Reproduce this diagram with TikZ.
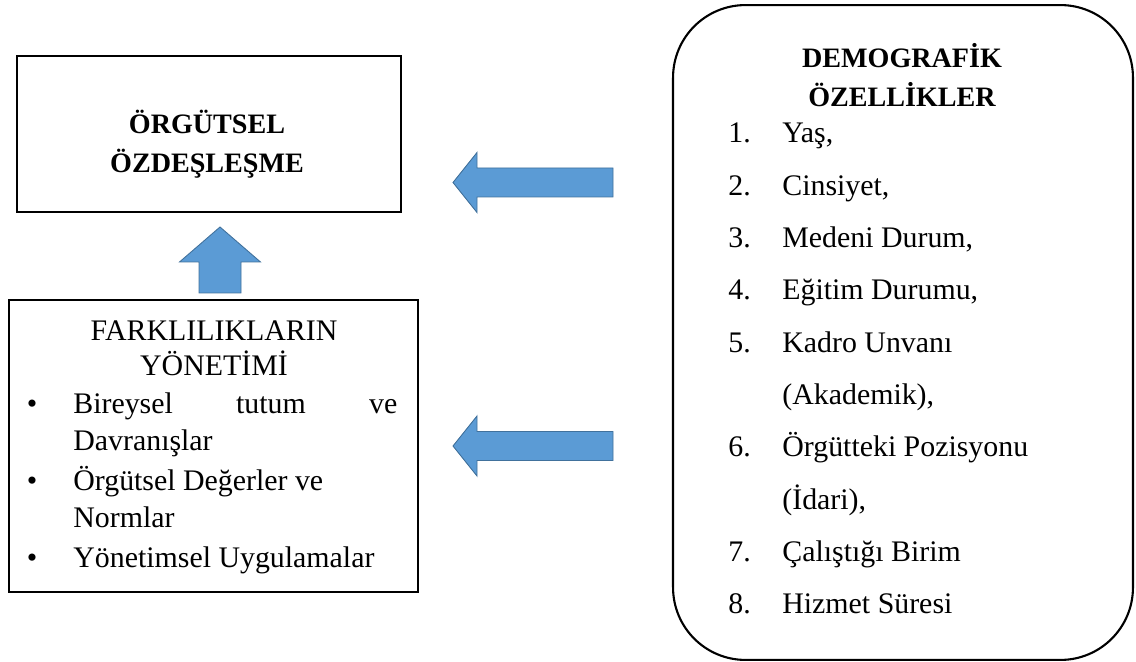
\documentclass[tikz,border=0pt]{standalone}
\usepackage{fontspec}
\setmainfont{Liberation Serif}

\definecolor{arrowblue}{HTML}{5B9BD5}
\definecolor{arrowedge}{HTML}{41719C}

\tikzset{
  plainbox/.style={draw, line width=1.2pt, inner sep=0pt},
  heading/.style={font=\fontsize{16}{19}\selectfont\bfseries, anchor=base, inner sep=0pt},
  plainhead/.style={anchor=base, inner sep=0pt},
  entry/.style={anchor=base west, inner sep=0pt},
  blockarrow/.style={fill=arrowblue, draw=arrowedge, line width=0.5pt},
  % block arrows, tip at the origin
  leftblock/.pic={
    \filldraw[blockarrow] (0,0) -- ++(24,-30) -- ++(0,15.5) -- ++(136,0)
      -- ++(0,29) -- ++(-136,0) -- ++(0,15.5) -- cycle;
  },
  upblock/.pic={
    \filldraw[blockarrow] (0,0) -- ++(40.5,35) -- ++(-19.5,0) -- ++(0,31)
      -- ++(-42,0) -- ++(0,-31) -- ++(-19.5,0) -- cycle;
  },
}

\begin{document}
\begin{tikzpicture}[x=0.02cm, y=-0.02cm, font=\fontsize{17}{20}\selectfont]
  \useasboundingbox (0,0) rectangle (1136,662);

  % boxes
  \node[plainbox, minimum width=7.68cm, minimum height=3.12cm] (ozdbox) at (209,134) {};
  \node[plainbox, minimum width=8.18cm, minimum height=5.84cm] (farkbox) at (213.5,446) {};
  \node[plainbox, rounded corners=1.45cm, minimum width=9.2cm, minimum height=13.1cm] (demobox) at (903,332.5) {};

  % upper left box
  \node[heading] (ozd1) at (207,134) {ÖRGÜTSEL};
  \node[heading] (ozd2) at (207,173) {ÖZDEŞLEŞME};

  % lower left box
  \node[plainhead] (fark1) at (214,340) {FARKLILIKLARIN};
  \node[plainhead] (fark2) at (214,375) {YÖNETİMİ};
  \foreach \row in {413,490,567}
    \node[anchor=base, inner sep=0pt] (dot\row) at (32,\row) {\textbullet};
  \node[entry] (fitem1) at (73,413) {\makebox[6.48cm][s]{Bireysel tutum ve}};
  \node[entry] (fitem2) at (73,450) {Davranışlar};
  \node[entry] (fitem3) at (73,490) {Örgütsel Değerler ve};
  \node[entry] (fitem4) at (73,527) {Normlar};
  \node[entry] (fitem5) at (73,567) {Yönetimsel Uygulamalar};

  % right box
  \node[heading] (demo1) at (902,68) {DEMOGRAFİK};
  \node[heading] (demo2) at (902,107) {ÖZELLİKLER};
  \foreach \num/\row in {1/0,2/1,3/2,4/3,5/4,6/6,7/8,8/9}
    \node[entry] (num\num) at (728, 143+52.3*\row) {\num.};
  \foreach \txt [count=\row from 0] in {{Yaş,}, {Cinsiyet,}, {Medeni Durum,},
      {Eğitim Durumu,}, {Kadro Unvanı}, {(Akademik),}, {Örgütteki Pozisyonu},
      {(İdari),}, {Çalıştığı Birim}, {Hizmet Süresi}}
    \node[entry] (ditem\row) at (782, 143+52.3*\row) {\txt};

  % arrows
  \pic at (220,227) {upblock};
  \pic at (453,182.5) {leftblock};
  \pic at (453,446) {leftblock};
\end{tikzpicture}
\end{document}
